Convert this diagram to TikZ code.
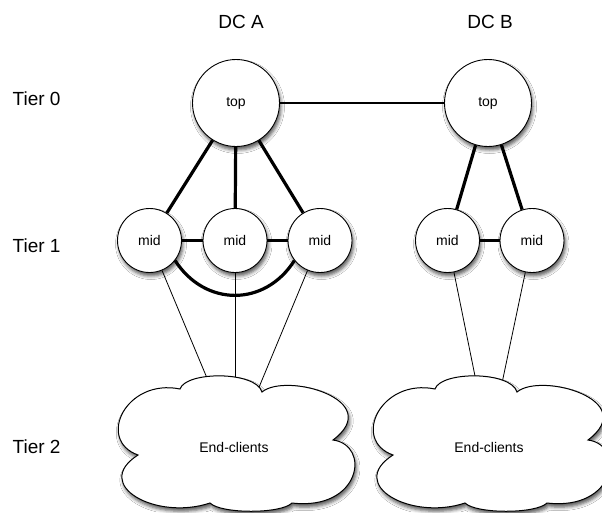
\documentclass[tikz,border=0pt]{standalone}
\usepackage{fontspec}
\setmainfont{Liberation Sans}
\usetikzlibrary{shadows.blur}
\begin{document}
\begin{tikzpicture}[x=1pt,y=-1pt,
  shad/.style={blur shadow={shadow xshift=1.5pt,shadow yshift=-3.5pt,shadow blur radius=3.5pt,shadow opacity=65}},
  circ/.style={circle,draw,line width=0.9pt,fill=white,inner sep=0pt,shad,font=\fontsize{14}{16}\selectfont},
  topnode/.style={circ,minimum size=87pt},
  midnode/.style={circ,minimum size=64pt},
  big/.style={font=\fontsize{19}{22}\selectfont,inner sep=0pt},
  small/.style={font=\fontsize{14}{16}\selectfont,inner sep=0pt},
  heavy/.style={line width=3.2pt},
  medium/.style={line width=1.8pt},
  thin/.style={line width=0.8pt},
  cloudshape/.style={draw,line width=1pt,fill=white,shad}
]
\fill[white] (0,0) rectangle (602,512);
\useasboundingbox (0,0) rectangle (602,512);

% labels
\node[big,anchor=base] (dcA) at (241,28) {DC A};
\node[big,anchor=base] (dcB) at (490,28) {DC B};
\node[big,anchor=base west] (tier0) at (12.5,105) {Tier 0};
\node[big,anchor=base west] (tier1) at (12.5,252) {Tier 1};
\node[big,anchor=base west] (tier2) at (12.5,453) {Tier 2};

% nodes
\node[topnode] (tA) at (236,103) {top};
\node[topnode] (tB) at (488,103) {top};
\node[midnode] (mA1) at (149.5,240.5) {mid};
\node[midnode] (mA2) at (235,240.5) {mid};
\node[midnode] (mA3) at (320,240.5) {mid};
\node[midnode] (mB1) at (447.5,240.5) {mid};
\node[midnode] (mB2) at (532,240.5) {mid};

\coordinate (cA) at (235,445);
\coordinate (cB) at (489,445);

% edges
\draw[medium] (tA) -- (tB);
\draw[heavy] (tA) -- (mA1);
\draw[heavy] (tA) -- (mA2);
\draw[heavy] (tA) -- (mA3);
\draw[heavy] (mA1) -- (mA2);
\draw[heavy] (mA2) -- (mA3);
\draw[heavy] (mA1.-38) .. controls (205,307) and (265,307) .. (mA3.-142);
\draw[heavy] (tB) -- (mB1);
\draw[heavy] (tB) -- (mB2);
\draw[heavy] (mB1) -- (mB2);

\draw[thin] (mA1) -- (cA);
\draw[thin] (mA2) -- (cA);
\draw[thin] (mA3) -- (cA);
\draw[thin] (mB1) -- (cB);
\draw[thin] (mB2) -- (cB);

% clouds
\foreach \cx in {236,491}{
  \begin{scope}[shift={(\cx,445)}]
    \path[cloudshape] (-56,-56)
      .. controls (-50,-74) and (20,-74) .. (26,-53)
      .. controls (50,-73) and (150,-45) .. (97,-5)
      .. controls (135,0) and (125,66) .. (56,58)
      .. controls (45,69) and (-15,69) .. (-26,58)
      .. controls (-80,76) and (-145,40) .. (-98,10)
      .. controls (-140,-5) and (-110,-67) .. (-56,-56) -- cycle;
  \end{scope}
}
\node[small] (endA) at (234,447) {End-clients};
\node[small] (endB) at (489,447) {End-clients};
\end{tikzpicture}
\end{document}
